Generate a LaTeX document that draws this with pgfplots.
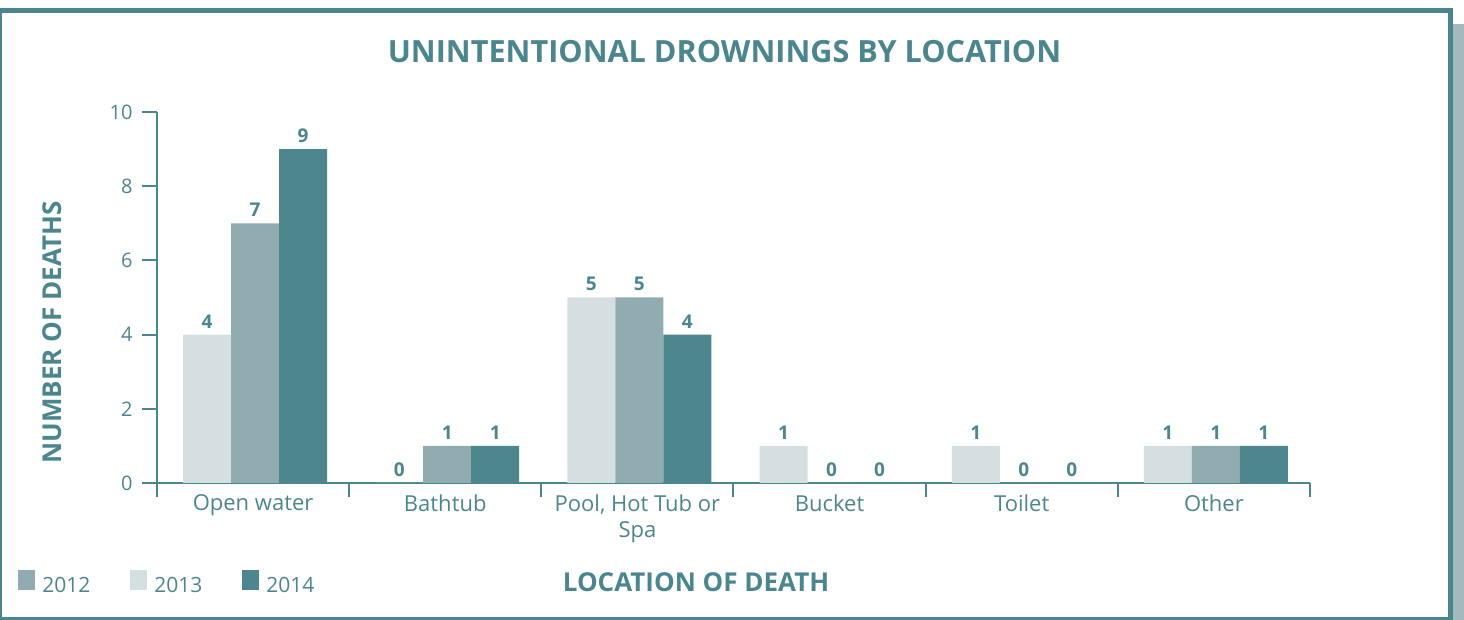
\documentclass[border=0pt]{standalone}
\usepackage{fontspec}
\setmainfont{Open Sans}
\usepackage{pgfplots}
\pgfplotsset{compat=1.18}

\definecolor{axcol}{HTML}{4B868E}
\definecolor{barlight}{HTML}{D5DEE1}
\definecolor{barmid}{HTML}{90ACB1}
\definecolor{bardark}{HTML}{4D868D}
\definecolor{strip}{HTML}{A3B9BE}

\begin{document}
\begin{tikzpicture}
\useasboundingbox (-78.5pt,-68.5pt) rectangle (653.5pt,241.5pt);
\begin{axis}[
  scale only axis, width=576.5pt, height=185.5pt,
  at={(0pt,0pt)}, anchor=south west,
  ybar=0pt, bar width=24pt,
  xmin=-0.5, xmax=5.5, ymin=0, ymax=10,
  axis x line=bottom, axis y line=left,
  axis line style={-, line width=1pt, draw=axcol},
  xtick={0,...,5},
  xticklabels={Open water, Bathtub, {Pool, Hot Tub or\\Spa}, Bucket, Toilet, Other},
  major x tick style={draw=none},
  minor xtick={-0.5,0.5,...,5.5},
  minor x tick style={line width=1pt, draw=axcol},
  ytick={0,2,...,10},
  major y tick style={line width=1pt, draw=axcol},
  tick align=outside,
  major tick length=7.5pt, minor tick length=7pt,
  ticklabel style={text=axcol},
  xticklabel style={align=center, inner sep=0pt, yshift=2pt, font=\fontsize{11}{13}\selectfont},
  yticklabel style={inner sep=0pt, xshift=-4.5pt, font=\fontsize{10}{12}\selectfont},
  /pgf/number format/assume math mode=true,
  nodes near coords,
  every node near coord/.append style={font=\bfseries\fontsize{9.5}{11}\selectfont,
    text=axcol, inner sep=0pt, yshift=3pt},
  clip=false,
  title={UNINTENTIONAL DROWNINGS BY LOCATION},
  title style={at={(0.4922,1.1294)}, anchor=center, font=\bfseries\fontsize{15.3}{17}\selectfont, text=axcol},
  xlabel={LOCATION OF DEATH},
  xlabel style={at={(0.4675,-0.2668)}, anchor=center, font=\bfseries\fontsize{13}{15}\selectfont, text=axcol},
  ylabel={NUMBER OF DEATHS},
  ylabel style={at={(-0.0911,0.4057)}, anchor=center, font=\bfseries\fontsize{13}{15}\selectfont, text=axcol},
  legend style={at={(-0.12056,-0.26954)}, anchor=west, draw=none, fill=none,
    inner sep=0pt, font=\fontsize{10.5}{12}\selectfont, text=axcol,
    nodes={inner sep=0pt},
    /tikz/every odd column/.append style={column sep=3.5pt},
    /tikz/every even column/.append style={column sep=20pt}},
  legend columns=3,
  legend cell align=left,
  legend image code/.code={\fill[#1] (0pt,-1.5pt) rectangle (8.5pt,8.2pt);},
]
% bar order as drawn: light, mid, dark
\addplot[fill=barlight, draw=none, bar shift=-23pt, forget plot] coordinates {(0,4) (1,0) (2,5) (3,1) (4,1) (5,1)};
\addplot[fill=barmid, draw=none, bar shift=1pt, forget plot] coordinates {(0,7) (1,1) (2,5) (3,0) (4,0) (5,1)};
\addplot[fill=bardark, draw=none, bar shift=25pt, forget plot] coordinates {(0,9) (1,1) (2,4) (3,0) (4,0) (5,1)};
\addlegendimage{fill=barmid, draw=none}
\addlegendentry{2012}
\addlegendimage{fill=barlight, draw=none}
\addlegendentry{2013}
\addlegendimage{fill=bardark, draw=none}
\addlegendentry{2014}
\end{axis}
% frame
\fill[axcol] (-78.5pt,-68.5pt) rectangle (-77.25pt,237.5pt);
\fill[axcol] (-78.5pt,235pt) rectangle (648pt,237.5pt);
\fill[axcol] (645.5pt,-68.5pt) rectangle (648pt,237.5pt);
\fill[axcol] (-78.5pt,-68.5pt) rectangle (648pt,-67pt);
\fill[strip] (648pt,-68.5pt) rectangle (653.5pt,229.5pt);
\end{tikzpicture}
\end{document}
